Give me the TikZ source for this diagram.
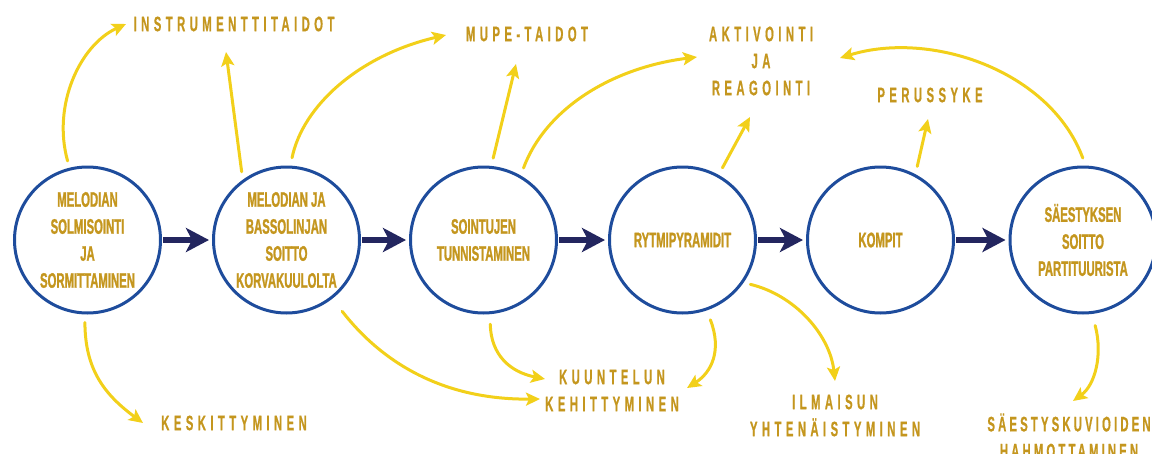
\documentclass[tikz,border=0pt]{standalone}
\usepackage{fontspec}
\usetikzlibrary{arrows.meta}
\newfontfamily\circfont{Liberation Sans}[UprightFont=* Bold, FakeStretch=0.54, FakeBold=1.2]
\newfontfamily\lblfont{Liberation Sans}[UprightFont=* Bold, FakeStretch=0.54, FakeBold=0.6, LetterSpace=21]
\newfontfamily\lbltightfont{Liberation Sans}[UprightFont=* Bold, FakeStretch=0.54, FakeBold=0.6, LetterSpace=15]
\definecolor{gold}{RGB}{196,150,30}
\definecolor{linkyellow}{RGB}{242,208,26}
\definecolor{ringblue}{RGB}{30,76,156}
\definecolor{navy}{RGB}{35,38,95}
\begin{document}
\begin{tikzpicture}[x=1pt,y=-1pt,
  stage/.style={circle, draw=ringblue, line width=3pt, minimum size=146pt,
    inner sep=0pt, align=center, text=gold,
    font=\circfont\fontsize{21}{27}\selectfont},
  skill/.style={align=center, text=gold, inner sep=0pt,
    font=\lblfont\fontsize{21}{27}\selectfont},
  flow/.style={draw=navy, line width=6pt,
    -{Stealth[length=23pt,width=24pt,inset=6pt]},
    shorten <=1pt, shorten >=3pt},
  link/.style={draw=linkyellow, line width=3pt, line cap=round,
    -{Stealth[length=14pt,width=13pt,inset=3pt]}}]
\useasboundingbox (0,0) rectangle (1152,453);

% learning stages
\node[stage] (c1) at (87.5,240) {MELODIAN\\SOLMISOINTI\\JA\\SORMITTAMINEN};
\node[stage] (c2) at (286.5,240) {MELODIAN JA\\BASSOLINJAN\\SOITTO\\KORVAKUULOLTA};
\node[stage] (c3) at (483.5,240) {SOINTUJEN\\TUNNISTAMINEN};
\node[stage] (c4) at (682.5,240) {RYTMIPYRAMIDIT};
\node[stage] (c5) at (880.5,240) {KOMPIT};
\node[stage] (c6) at (1083,240) {SÄESTYKSEN\\SOITTO\\PARTITUURISTA};

% skills reached along the way
\node[skill] (instr) at (234,24) {INSTRUMENTTITAIDOT};
\node[skill] (mupe) at (527,34) {MUPE-TAIDOT};
\node[skill] (aktiv) at (761,61) {AKTIVOINTI\\JA\\REAGOINTI};
\node[skill] (syke) at (930,95) {PERUSSYKE};
\node[skill] (keski) at (234,423) {KESKITTYMINEN};
\node[skill] (kuunt) at (612,390.5) {KUUNTELUN\\KEHITTYMINEN};
\node[skill] (ilm) at (835,415.5) {ILMAISUN\\YHTENÄISTYMINEN};
\node[skill, font=\lbltightfont\fontsize{21}{27}\selectfont] (saest) at (1069,436)
  {SÄESTYSKUVIOIDEN\\HAHMOTTAMINEN};

% arrow ends next to the skill labels
\coordinate (tInstrA) at (126,24);
\coordinate (tInstrB) at (226,52);
\coordinate (tMupeA) at (446,35);
\coordinate (tMupeB) at (516,64);
\coordinate (tAktivA) at (697,57);
\coordinate (tAktivB) at (750,117);
\coordinate (tAktivC) at (840,58);
\coordinate (tSyke) at (928,119);
\coordinate (tKeski) at (143,423);
\coordinate (tKuuntA) at (540,399);
\coordinate (tKuuntB) at (545,379);
\coordinate (tKuuntC) at (687,388);
\coordinate (tIlm) at (835,381);
\coordinate (tSaest) at (1073,401);

% main sequence
\draw[flow] (c1) -- (c2);
\draw[flow] (c2) -- (c3);
\draw[flow] (c3) -- (c4);
\draw[flow] (c4) -- (c5);
\draw[flow] (c5) -- (c6);

% links from stages to skills
\draw[link, shorten <=7pt] (c1.104) .. controls (52,105) and (80,45) .. (tInstrA);
\draw[link, shorten <=8pt] (c2.126) -- (tInstrB);
\draw[link, shorten <=8pt] (c2.87) .. controls (303,105) and (360,55) .. (tMupeA);
\draw[link, shorten <=8pt] (c3.84) -- (tMupeB);
\draw[link, shorten <=8pt] (c3.60) .. controls (545,110) and (610,68) .. (tAktivA);
\draw[link, shorten <=8pt] (c4.61) -- (tAktivB);
\draw[link, shorten <=8pt] (c5.62) -- (tSyke);
\draw[link, shorten <=8pt] (c6.88) .. controls (1050,70) and (930,30) .. (tAktivC);
\draw[link, shorten <=8pt] (c1.268) .. controls (85,370) and (105,395) .. (tKeski);
\draw[link, shorten <=16pt] (c2.-52) .. controls (380,360) and (440,400) .. (tKuuntA);
\draw[link, shorten <=10pt] (c3.275) .. controls (491,355) and (510,372) .. (tKuuntB);
\draw[link, shorten <=10pt] (c4.-71) .. controls (722,350) and (712,372) .. (tKuuntC);
\draw[link, shorten <=7pt] (c4.-35) .. controls (795,295) and (830,335) .. (tIlm);
\draw[link, shorten <=12pt] (c6.-83) .. controls (1103,355) and (1095,385) .. (tSaest);
\end{tikzpicture}
\end{document}
